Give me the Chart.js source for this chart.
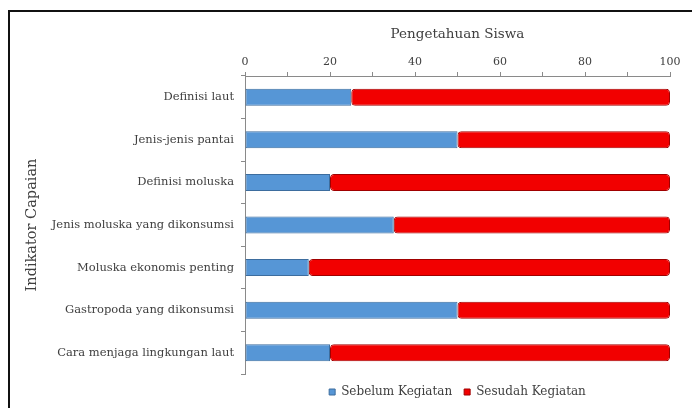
<!DOCTYPE html>
<html>
<head>
<meta charset="utf-8">
<script src="https://cdn.jsdelivr.net/npm/chart.js@4.4.0/dist/chart.umd.min.js"></script>
<style>
  html, body { margin: 0; padding: 0; background: #fff; }
  #bingkai {
    position: absolute; left: 8px; top: 10px;
    width: 684px; height: 398px;
    border-left: 2px solid #111; border-top: 2px solid #111;
  }
  #bingkai canvas { display: block; }
</style>
</head>
<body>
<div id="bingkai"><canvas id="grafik" width="682" height="396"></canvas></div>
<script>
// data
const kategori = [
  "Definisi laut",
  "Jenis-jenis pantai",
  "Definisi moluska",
  "Jenis moluska yang dikonsumsi",
  "Moluska ekonomis penting",
  "Gastropoda yang dikonsumsi",
  "Cara menjaga lingkungan laut"
];
const sebelumKegiatan = [25, 50, 20, 35, 15, 50, 20];
const sesudahKegiatan = [75, 50, 80, 65, 85, 50, 80];
const labelSumbuX = [0, 20, 40, 60, 80, 100];

const hurufSerif = "'DejaVu Serif', 'Liberation Serif', serif";
const warnaTeks = "#404040";
const warnaSumbu = "#8a8a8a";

new Chart(document.getElementById("grafik"), {
  type: 'bar',
  data: {
    labels: kategori,
    datasets: [
      {
        label: "Sebelum Kegiatan",
        data: sebelumKegiatan,
        backgroundColor: "#5696d6",
        borderColor: "#3d6d9e",
        borderWidth: 1,
        borderSkipped: false,
        borderRadius: 4
      }, {
        label: "Sesudah Kegiatan",
        data: sesudahKegiatan,
        backgroundColor: "#f20000",
        borderColor: "#a00000",
        borderWidth: 1,
        borderSkipped: false,
        borderRadius: 4
      }
    ]
  },
  options: {
    indexAxis: 'y',
    responsive: false,
    animation: false,
    barPercentage: 0.4,
    categoryPercentage: 1,
    layout: { padding: { top: 14, right: 22, bottom: 0, left: 0 } },
    scales: {
      x: {
        position: 'top',
        stacked: true,
        min: 0,
        max: 100,
        ticks: {
          stepSize: 10,
          autoSkip: false,
          maxRotation: 0,
          padding: 3,
          color: warnaTeks,
          font: { family: hurufSerif, size: 11 },
          callback: (nilai) => labelSumbuX.includes(nilai) ? nilai : ''
        },
        grid: { drawOnChartArea: false, tickLength: 4, color: warnaSumbu },
        border: { color: warnaSumbu },
        title: {
          display: true,
          text: "Pengetahuan Siswa",
          color: warnaTeks,
          font: { family: hurufSerif, size: 13.5 },
          padding: { top: 0, bottom: 2 }
        },
        afterFit: (skala) => { skala.height = 50; }
      },
      y: {
        stacked: true,
        ticks: {
          padding: 7,
          color: warnaTeks,
          font: { family: hurufSerif, size: 11.5 }
        },
        grid: { drawOnChartArea: false, tickLength: 4, color: warnaSumbu },
        border: { color: warnaSumbu },
        title: {
          display: true,
          text: "Indikator Capaian",
          color: warnaTeks,
          font: { family: hurufSerif, size: 14.5 },
          padding: { top: 14, bottom: 0 }
        },
        afterFit: (skala) => { skala.width = 235; }
      }
    },
    plugins: {
      legend: {
        position: 'bottom',
        fullSize: false,
        labels: {
          boxWidth: 6,
          boxHeight: 6,
          padding: 12,
          color: warnaTeks,
          font: { family: hurufSerif, size: 12 }
        }
      },
      tooltip: { enabled: false }
    }
  }
});
</script>
</body>
</html>
